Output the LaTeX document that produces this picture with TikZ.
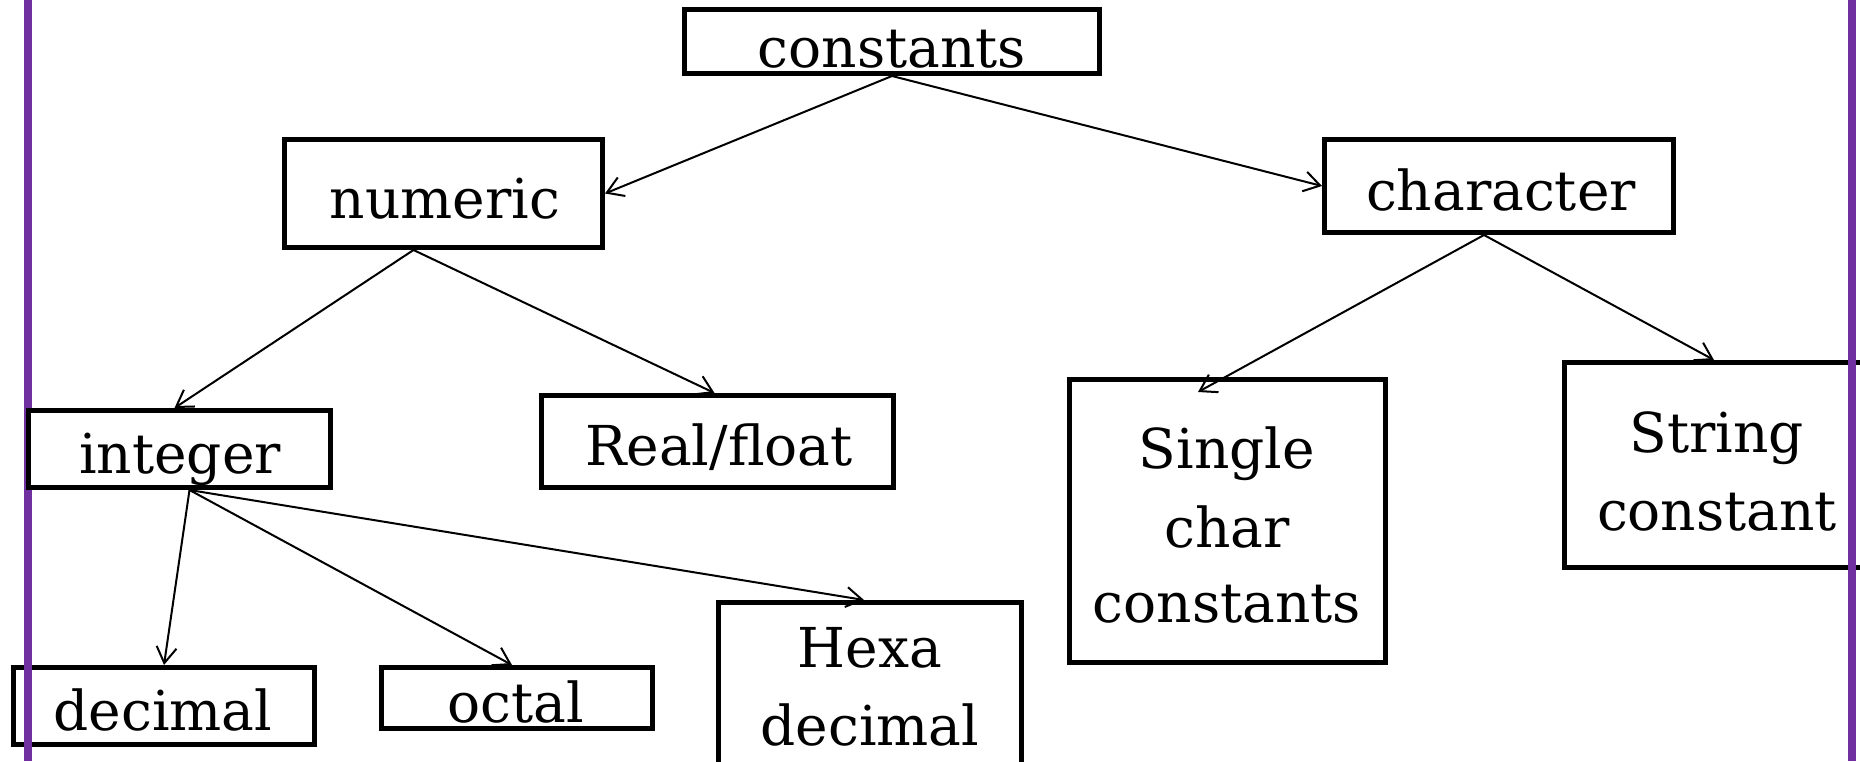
\documentclass[tikz,border=0pt]{standalone}
\usepackage{fontspec}
\setmainfont{DejaVu Serif}
\usetikzlibrary{arrows.meta}
\definecolor{slidepurple}{RGB}{112,48,160}
\tikzset{
  box/.style={draw=black, line width=5pt, fill=white, inner sep=0pt, rectangle},
  lbl/.style={anchor=base, inner sep=0pt, font=\fontsize{55}{78}\selectfont},
  conn/.style={draw=black, line width=2pt, -{Straight Barb[length=16pt,width=20pt,line width=2pt]}},
  edge/.style={draw=slidepurple, line width=8pt}
}
\begin{document}
\begin{tikzpicture}[x=1pt,y=-1pt]
\useasboundingbox (0,0) rectangle (1860,761);
% boxes under the side rules
\node[box, minimum width=301pt, minimum height=77pt] (decimal) at (164,706) {};
\node[box, minimum width=305pt, minimum height=205pt] (string) at (1717,465) {};
% side rules
\coordinate (lt) at (28,0); \coordinate (lb) at (28,761);
\coordinate (rt) at (1852,0); \coordinate (rb) at (1852,761);
\draw[edge] (lt) -- (lb);
\draw[edge] (rt) -- (rb);
% other boxes
\node[box, minimum width=415pt, minimum height=64pt] (constants) at (892,41.5) {};
\node[box, minimum width=318pt, minimum height=108pt] (numeric) at (443.5,193.5) {};
\node[box, minimum width=349pt, minimum height=93pt] (character) at (1499,186) {};
\node[box, minimum width=302pt, minimum height=77pt] (integer) at (179.5,449) {};
\node[box, minimum width=352pt, minimum height=92pt] (real) at (717.5,441.5) {};
\node[box, minimum width=271pt, minimum height=61pt] (octal) at (517,698) {};
\node[box, minimum width=303pt, minimum height=175pt] (hexa) at (870,690) {};
\node[box, minimum width=316pt, minimum height=283pt] (single) at (1227.5,521) {};
% texts
\node[lbl] (t-constants) at (892,67) {constants};
\node[lbl] (t-numeric) at (445,218) {numeric};
\node[lbl] (t-character) at (1501,210) {character};
\node[lbl] (t-integer) at (180,473) {integer};
\node[lbl] (t-real) at (719,465) {Real/float};
\node[lbl] (t-decimal) at (163,730) {decimal};
\node[lbl] (t-octal) at (516,722) {octal};
\node[lbl] (t-hexa1) at (870,667) {Hexa};
\node[lbl] (t-hexa2) at (870,745) {decimal};
\node[lbl] (t-single1) at (1227,468) {Single};
\node[lbl] (t-single2) at (1227,547) {char};
\node[lbl] (t-single3) at (1227,622) {constants};
\node[lbl] (t-string1) at (1717,452) {String};
\node[lbl] (t-string2) at (1717,530) {constant};
% connector end points
\coordinate (c-out) at (constants.south);
\coordinate (n-out) at ([xshift=-30pt]numeric.south);
\coordinate (ch-out) at ([xshift=-15pt]character.south);
\coordinate (i-out) at ([xshift=10pt]integer.south);
\coordinate (i-in) at ([xshift=-5pt]integer.north);
\coordinate (s-in) at (1198,392);
\coordinate (h-in) at ([xshift=-6pt]hexa.north);
\coordinate (o-in) at ([xshift=-5pt]octal.north);
% connectors
\draw[conn] (c-out) -- (numeric.east);
\draw[conn] (c-out) -- (character.west);
\draw[conn] (n-out) -- (i-in);
\draw[conn] (n-out) -- ([xshift=-3pt]real.north);
\draw[conn] (ch-out) -- (s-in);
\draw[conn] (ch-out) -- ([xshift=-3pt]string.north);
\draw[conn] (i-out) -- (decimal.north);
\draw[conn] (i-out) -- (o-in);
\draw[conn] (i-out) -- (h-in);
\end{tikzpicture}
\end{document}
